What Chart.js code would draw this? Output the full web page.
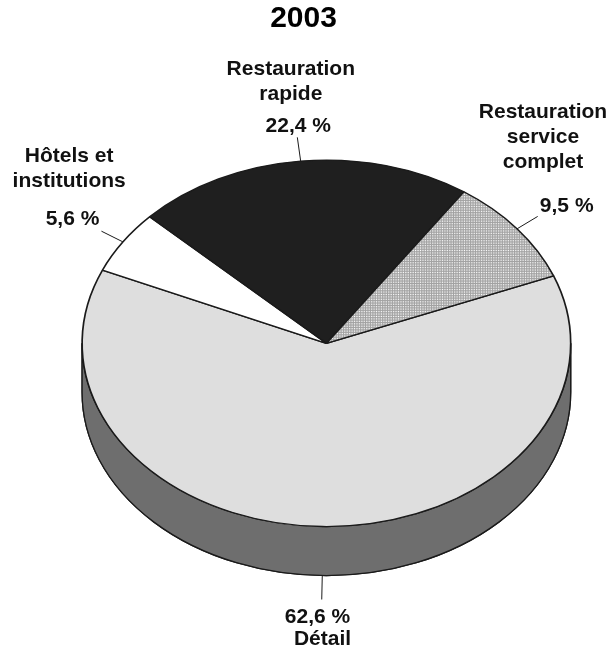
<!DOCTYPE html>
<html>
<head>
<meta charset="utf-8">
<script src="https://cdn.jsdelivr.net/npm/chart.js@4.4.1/dist/chart.umd.min.js"></script>
<style>
  html, body { margin: 0; padding: 0; background: #ffffff; }
  canvas { display: block; }
</style>
</head>
<body>
<canvas id="c" width="611" height="647"></canvas>
<script>
// ---- data ----
const chartTitle = '2003';
const categories = ['Détail', 'Hôtels et institutions', 'Restauration rapide', 'Restauration service complet'];
const shares = [62.6, 5.6, 22.4, 9.5];
const percentLabels = ['62,6 %', '5,6 %', '22,4 %', '9,5 %'];
const nameLines = [['Détail'], ['Hôtels et', 'institutions'], ['Restauration', 'rapide'], ['Restauration', 'service', 'complet']];

// ---- style / layout ----
const FONT = '"Liberation Sans", Arial, Helvetica, sans-serif';
const topColors = ['#dedede', '#ffffff', '#1f1f1f', null];
const sideColors = ['#6e6e6e', '#9a9a9a', '#111111', '#707070'];
const view = { cx: 326.4, cy: 343.3, rx: 244.3, tilt: 0.75, depth: 49 };
const leaderLen = 24;
// text anchors: [pctX, pctBaseline, nameX, nameFirstBaseline, lineStep, nameBelow]
const labelLayout = [
  { pct: [317.5, 623.3], name: [322.5, 645], step: 25 },
  { pct: [72.5, 225], name: [69.2, 161.7], step: 25 },
  { pct: [298.3, 131.7], name: [290.8, 75], step: 25 },
  { pct: [566.7, 211.7], name: [543, 118.3], step: 25 }
];

function makeDots() {
  const p = document.createElement('canvas');
  p.width = 2; p.height = 2;
  const g = p.getContext('2d');
  g.fillStyle = '#a2a2a2'; g.fillRect(0, 0, 2, 2);
  g.fillStyle = '#ffffff'; g.fillRect(0, 0, 1, 1);
  return g;
}
const ctx0 = document.getElementById('c').getContext('2d');
const dotPattern = ctx0.createPattern(makeDots().canvas, 'repeat');
dotPattern.setTransform(new DOMMatrix().scale(1, 1 / view.tilt));
topColors[3] = dotPattern;

const tiltPlugin = {
  id: 'tilt3d',
  beforeDatasetsDraw(chart) {
    const ctx = chart.ctx;
    const meta = chart.getDatasetMeta(0);
    const a0 = meta.data[0];
    const R = a0.outerRadius;
    const sx = view.rx / R;
    const sy = sx * view.tilt;
    const ry = view.rx * view.tilt;
    // side walls (front half only)
    meta.data.forEach((arc, i) => {
      let s = arc.startAngle, e = arc.endAngle;
      // normalize to [0, 2pi)
      const norm = a => { a = a % (2 * Math.PI); return a < 0 ? a + 2 * Math.PI : a; };
      const segs = [];
      let ns = norm(s); let ne = ns + (e - s);
      for (let k = -1; k <= 1; k++) {
        const lo = Math.max(ns, 0 + k * 2 * Math.PI), hi = Math.min(ne, Math.PI + k * 2 * Math.PI);
        if (hi > lo) segs.push([lo, hi]);
      }
      const lo2 = Math.max(ns, 2 * Math.PI), hi2 = Math.min(ne, 3 * Math.PI);
      if (hi2 > lo2) segs.push([lo2, hi2]);
      segs.forEach(([p, q]) => {
        ctx.save();
        ctx.beginPath();
        ctx.ellipse(view.cx, view.cy, view.rx, ry, 0, p, q, false);
        ctx.ellipse(view.cx, view.cy + view.depth, view.rx, ry, 0, q, p, true);
        ctx.closePath();
        ctx.fillStyle = sideColors[i];
        ctx.fill();
        ctx.lineWidth = 1.3;
        ctx.strokeStyle = '#1a1a1a';
        ctx.stroke();
        ctx.restore();
      });
    });
    ctx.save();
    ctx.translate(view.cx, view.cy);
    ctx.scale(sx, sy);
    ctx.translate(-a0.x, -a0.y);
  },
  afterDatasetsDraw(chart) {
    const ctx = chart.ctx;
    ctx.restore();
    const meta = chart.getDatasetMeta(0);
    const ry = view.rx * view.tilt;
    ctx.save();
    ctx.strokeStyle = '#1a1a1a';
    ctx.lineWidth = 1;
    meta.data.forEach((arc, i) => {
      const mid = (arc.startAngle + arc.endAngle) / 2;
      let x = view.cx + view.rx * Math.cos(mid);
      let y = view.cy + ry * Math.sin(mid);
      if (Math.sin(mid) > 0) y += view.depth;
      let dx = Math.cos(mid), dy = view.tilt * Math.sin(mid);
      const n = Math.hypot(dx, dy); dx /= n; dy /= n;
      ctx.beginPath();
      ctx.moveTo(x, y);
      ctx.lineTo(x + dx * leaderLen, y + dy * leaderLen);
      ctx.stroke();
    });
    ctx.fillStyle = '#111111';
    ctx.font = 'bold 21px ' + FONT;
    ctx.textAlign = 'center';
    ctx.textBaseline = 'alphabetic';
    labelLayout.forEach((L, i) => {
      ctx.fillText(percentLabels[i], L.pct[0], L.pct[1]);
      nameLines[i].forEach((t, j) => ctx.fillText(t, L.name[0], L.name[1] + j * L.step));
    });
    ctx.restore();
  }
};

new Chart(document.getElementById('c'), {
  type: 'pie',
  data: {
    labels: categories,
    datasets: [{
      data: shares,
      backgroundColor: topColors,
      borderColor: '#1a1a1a',
      borderWidth: 1.4,
      radius: 200
    }]
  },
  options: {
    responsive: false,
    animation: false,
    events: [],
    rotation: 68.4,
    layout: { padding: { left: 0, right: 4, top: 0, bottom: 0 } },
    plugins: {
      legend: { display: false },
      tooltip: { enabled: false },
      title: {
        display: true,
        text: chartTitle,
        color: '#000000',
        font: { family: FONT, size: 30, weight: 'bold', lineHeight: 1.2 },
        padding: { top: 1, bottom: 0 }
      }
    }
  },
  plugins: [tiltPlugin]
});
</script>
</body>
</html>
